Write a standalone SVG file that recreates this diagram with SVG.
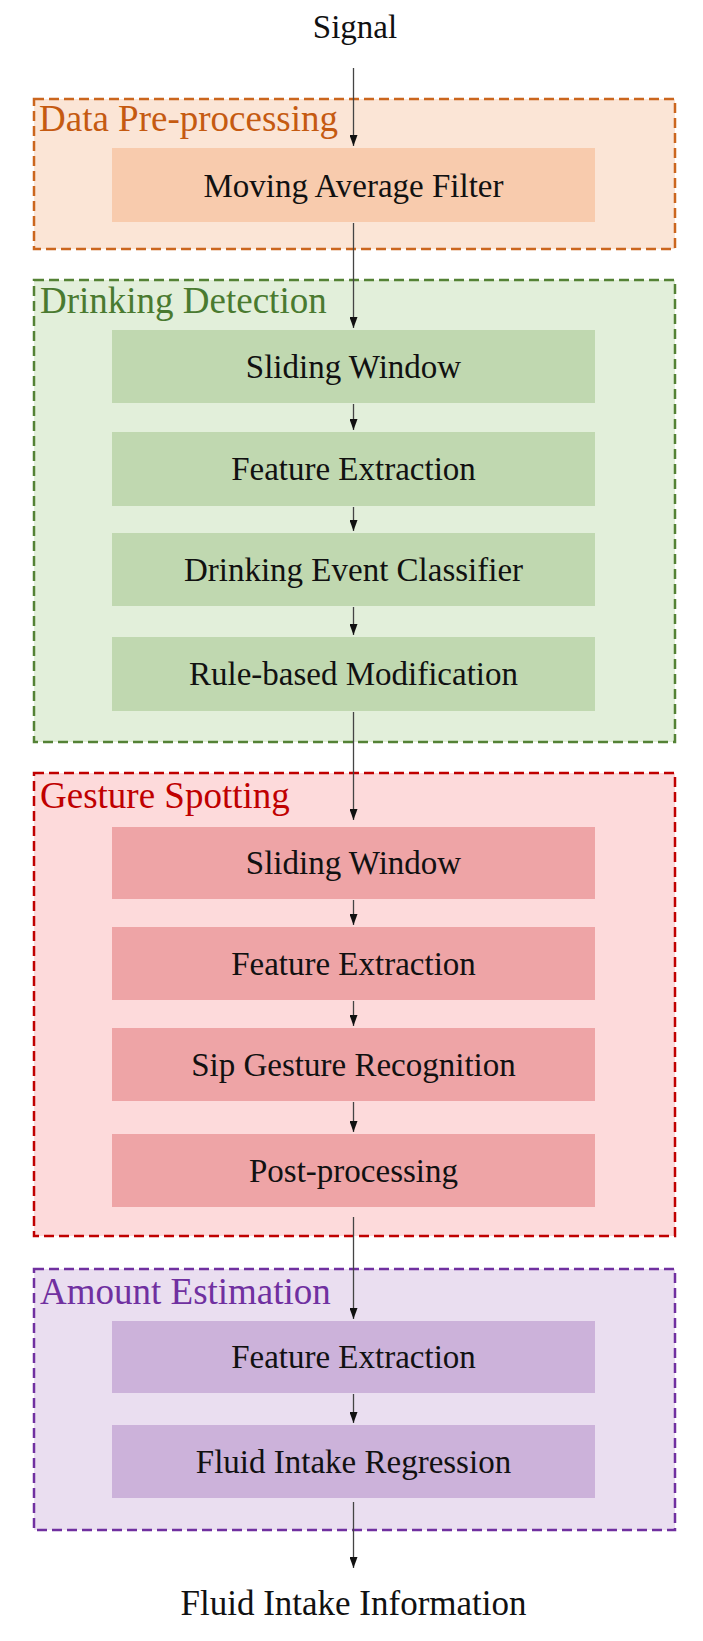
<svg xmlns="http://www.w3.org/2000/svg" width="703" height="1641" viewBox="0 0 703 1641">
<style>
text{font-family:"Liberation Serif","Times New Roman",serif}
.t{font-size:33px;fill:#111;text-anchor:middle}
.lbl{font-size:37px}
.grp{stroke-width:2.5;stroke-dasharray:10 5}
.c{stroke:#444;stroke-width:1.3;fill:none;marker-end:url(#ah)}
</style>
<defs>
<marker id="ah" viewBox="0 0 11 8" refX="11" refY="4" markerWidth="11" markerHeight="8" markerUnits="userSpaceOnUse" orient="auto">
<path d="M0,0 L11,4 L0,8 z" fill="#111"/>
</marker>
</defs>
<rect width="703" height="1641" fill="#fff"/>

<g id="signal"><text class="t" x="355" y="38">Signal</text></g>

<g id="data-preprocessing">
<rect class="grp" x="34" y="99" width="641" height="150" fill="#FBE5D6" stroke="#CB661E"/>
<text class="lbl" x="39" y="131" fill="#C55A11">Data Pre-processing</text>
</g>
<g id="moving-average-filter">
<rect x="112" y="148" width="483" height="74" fill="#F8CBAD"/>
<text class="t" x="353.5" y="197">Moving Average Filter</text>
</g>

<g id="drinking-detection">
<rect class="grp" x="34" y="280" width="641" height="462" fill="#E2EFDA" stroke="#548235"/>
<text class="lbl" x="40" y="313" fill="#4A7A30">Drinking Detection</text>
</g>
<g id="dd-sliding-window">
<rect x="112" y="330" width="483" height="73" fill="#C0D8B0"/>
<text class="t" x="353.5" y="378">Sliding Window</text>
</g>
<g id="dd-feature-extraction">
<rect x="112" y="432" width="483" height="74" fill="#C0D8B0"/>
<text class="t" x="353.5" y="480">Feature Extraction</text>
</g>
<g id="dd-classifier">
<rect x="112" y="533" width="483" height="73" fill="#C0D8B0"/>
<text class="t" x="353.5" y="581">Drinking Event Classifier</text>
</g>
<g id="dd-rule-based">
<rect x="112" y="637" width="483" height="74" fill="#C0D8B0"/>
<text class="t" x="353.5" y="685">Rule-based Modification</text>
</g>

<g id="gesture-spotting">
<rect class="grp" x="34" y="773" width="641" height="463" fill="#FDDADB" stroke="#C00000"/>
<text class="lbl" x="40" y="808" fill="#C00000">Gesture Spotting</text>
</g>
<g id="gs-sliding-window">
<rect x="112" y="827" width="483" height="72" fill="#EEA4A6"/>
<text class="t" x="353.5" y="874">Sliding Window</text>
</g>
<g id="gs-feature-extraction">
<rect x="112" y="927" width="483" height="73" fill="#EEA4A6"/>
<text class="t" x="353.5" y="975">Feature Extraction</text>
</g>
<g id="gs-sip-recognition">
<rect x="112" y="1028" width="483" height="73" fill="#EEA4A6"/>
<text class="t" x="353.5" y="1076">Sip Gesture Recognition</text>
</g>
<g id="gs-post-processing">
<rect x="112" y="1134" width="483" height="73" fill="#EEA4A6"/>
<text class="t" x="353.5" y="1182">Post-processing</text>
</g>

<g id="amount-estimation">
<rect class="grp" x="34" y="1269" width="641" height="261" fill="#EADEF0" stroke="#7030A0"/>
<text class="lbl" x="40" y="1304" fill="#7030A0">Amount Estimation</text>
</g>
<g id="ae-feature-extraction">
<rect x="112" y="1321" width="483" height="72" fill="#CCB2DA"/>
<text class="t" x="353.5" y="1368">Feature Extraction</text>
</g>
<g id="ae-regression">
<rect x="112" y="1425" width="483" height="73" fill="#CCB2DA"/>
<text class="t" x="353.5" y="1473">Fluid Intake Regression</text>
</g>

<g id="output"><text class="t" x="353.5" y="1615" style="font-size:35px">Fluid Intake Information</text></g>

<g id="connectors">
<line class="c" x1="353.5" y1="68" x2="353.5" y2="146"/>
<line class="c" x1="353.5" y1="223" x2="353.5" y2="328"/>
<line class="c" x1="353.5" y1="404" x2="353.5" y2="430"/>
<line class="c" x1="353.5" y1="507" x2="353.5" y2="531"/>
<line class="c" x1="353.5" y1="607" x2="353.5" y2="635"/>
<line class="c" x1="353.5" y1="712" x2="353.5" y2="820"/>
<line class="c" x1="353.5" y1="900" x2="353.5" y2="925"/>
<line class="c" x1="353.5" y1="1001" x2="353.5" y2="1026"/>
<line class="c" x1="353.5" y1="1102" x2="353.5" y2="1132"/>
<line class="c" x1="353.5" y1="1217" x2="353.5" y2="1319"/>
<line class="c" x1="353.5" y1="1394" x2="353.5" y2="1423"/>
<line class="c" x1="353.5" y1="1502" x2="353.5" y2="1568"/>
</g>
</svg>
